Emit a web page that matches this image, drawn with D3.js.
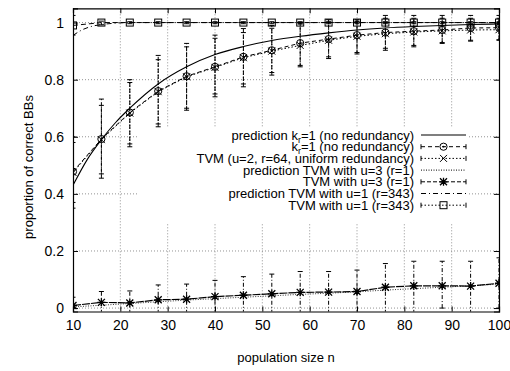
<!DOCTYPE html>
<html>
<head>
<meta charset="utf-8">
<script src="https://cdn.jsdelivr.net/npm/d3@7"></script>
<style>
  body { margin: 0; background: #fff; }
  svg text { font-family: "Liberation Sans", Arial, sans-serif; fill: #000; }
</style>
</head>
<body>
<svg id="mainsvg" width="510" height="371"></svg>
<script>
// sample points (population size)
const popSizes = [10, 16, 22, 28, 34, 40, 46, 52, 58, 64, 70, 76, 82, 88, 94, 100];

// prediction k_r=1 (smooth curve, read at the sample points)
const predKrX = [10, 13, 16, 19, 22, 28, 34, 40, 46, 52, 58, 64, 70, 76, 82, 88, 94, 100];
const predKrY = [0.43, 0.52, 0.59, 0.65, 0.70, 0.785, 0.845, 0.888, 0.916, 0.937, 0.952, 0.964, 0.974, 0.981, 0.986, 0.99, 0.993, 0.995];

// k_r=1 (no redundancy), mean and error bars
const krMean = [0.478, 0.592, 0.685, 0.76, 0.812, 0.845, 0.88, 0.903, 0.928, 0.942, 0.956, 0.965, 0.97, 0.974, 0.981, 0.982];
const krLow  = [0.35, 0.455, 0.565, 0.635, 0.693, 0.74, 0.775, 0.816, 0.845, 0.874, 0.89, 0.903, 0.915, 0.927, 0.938, 0.938];
const krHigh = [0.60, 0.732, 0.80, 0.885, 0.927, 0.956, 0.979, 0.99, 1.0, 1.01, 1.01, 1.025, 1.025, 1.025, 1.025, 1.025];

// TVM (u=2, r=64, uniform redundancy)
const tvm2Mean = [0.475, 0.59, 0.683, 0.758, 0.81, 0.843, 0.877, 0.9, 0.92, 0.938, 0.952, 0.961, 0.967, 0.971, 0.974, 0.975];
const tvm2Low  = [0.37, 0.47, 0.575, 0.645, 0.70, 0.75, 0.785, 0.825, 0.85, 0.88, 0.895, 0.91, 0.92, 0.93, 0.935, 0.94];
const tvm2High = [0.58, 0.71, 0.79, 0.87, 0.915, 0.945, 0.965, 0.98, 0.995, 1.0, 1.005, 1.015, 1.015, 1.015, 1.015, 1.015];

// prediction TVM with u=3 (r=1)
const predU3Y = [0.004, 0.01, 0.016, 0.022, 0.028, 0.033, 0.038, 0.043, 0.048, 0.052, 0.057, 0.063, 0.068, 0.073, 0.078, 0.084];

// TVM with u=3 (r=1)
const u3Mean = [0.009, 0.02, 0.018, 0.029, 0.031, 0.04, 0.045, 0.05, 0.055, 0.056, 0.058, 0.073, 0.078, 0.078, 0.077, 0.087];
const u3Low  = [-0.02, -0.02, -0.02, -0.02, -0.02, -0.02, -0.02, -0.02, -0.02, -0.02, -0.02, -0.02, -0.02, 0.0, -0.02, 0.0];
const u3High = [0.038, 0.058, 0.06, 0.081, 0.084, 0.097, 0.11, 0.119, 0.128, 0.128, 0.133, 0.156, 0.164, 0.164, 0.164, 0.176];

// prediction TVM with u=1 (r=343)
const predU1X = [10, 12, 14, 16, 19, 22, 28, 40, 60, 80, 100];
const predU1Y = [0.955, 0.975, 0.987, 0.993, 0.998, 1.0, 1.0, 1.0, 1.0, 1.0, 1.0];

// TVM with u=1 (r=343)
const u1Mean = [0.99, 1.0, 1.0, 1.0, 1.0, 1.0, 1.0, 1.0, 1.0, 1.0, 1.0, 1.0, 1.0, 1.0, 1.0, 1.0];
const u1Low  = [0.956, 0.992, 0.996, 0.996, 0.996, 0.996, 0.996, 0.996, 0.996, 0.996, 0.996, 0.996, 0.996, 0.996, 0.996, 0.996];
const u1High = [1.025, 1.005, 1.003, 1.003, 1.003, 1.003, 1.003, 1.003, 1.003, 1.003, 1.003, 1.003, 1.003, 1.003, 1.003, 1.003];

const xTicks = [10, 20, 30, 40, 50, 60, 70, 80, 90, 100];
const yTicks = [0, 0.2, 0.4, 0.6, 0.8, 1];

const svg = d3.select("#mainsvg");
const mLeft = 73, mRight = 499, mTop = 8.3, mBottom = 311.5;

const x = d3.scaleLinear().domain([10, 100]).range([mLeft, mRight]);
const y = d3.scaleLinear().domain([-0.012, 1.05]).range([mBottom, mTop]);

svg.append("defs").append("clipPath").attr("id", "plotclip")
  .append("rect").attr("x", mLeft).attr("y", mTop).attr("width", mRight - mLeft).attr("height", mBottom - mTop);

// grid
const grid = svg.append("g").attr("stroke", "#777").attr("stroke-width", 0.8).attr("stroke-dasharray", "1,2");
xTicks.slice(1, -1).forEach(t => {
  grid.append("line").attr("x1", x(t)).attr("x2", x(t)).attr("y1", mTop).attr("y2", mBottom);
});
yTicks.forEach(t => {
  grid.append("line").attr("x1", mLeft).attr("x2", mRight).attr("y1", y(t)).attr("y2", y(t));
});

// legend background blanks the grid
svg.append("rect").attr("x", 138).attr("y", 128).attr("width", 330).attr("height", 95).attr("fill", "#fff");

// axes (gnuplot-like inward ticks, mirrored)
const axisG = svg.append("g");
const xAxisB = axisG.append("g").attr("transform", `translate(0,${mBottom})`)
  .call(d3.axisBottom(x).tickValues(xTicks).tickSize(-5).tickPadding(9).tickFormat(d3.format("d")));
const xAxisT = axisG.append("g").attr("transform", `translate(0,${mTop})`)
  .call(d3.axisTop(x).tickValues(xTicks).tickSize(-5).tickFormat(""));
const yAxisL = axisG.append("g").attr("transform", `translate(${mLeft},0)`)
  .call(d3.axisLeft(y).tickValues(yTicks).tickSize(-5).tickPadding(9).tickFormat(d => d === 0 || d === 1 ? d3.format("d")(d) : d3.format(".1f")(d)));
const yAxisR = axisG.append("g").attr("transform", `translate(${mRight},0)`)
  .call(d3.axisRight(y).tickValues(yTicks).tickSize(-5).tickFormat(""));
[xAxisB, xAxisT, yAxisL, yAxisR].forEach(a => a.attr("font-size", 14));
axisG.selectAll(".domain").attr("stroke", "#000").attr("stroke-width", 1.2);
axisG.selectAll(".tick line").attr("stroke", "#000");

// axis labels
svg.append("text").attr("x", 286).attr("y", 362).attr("text-anchor", "middle").attr("font-size", 13)
  .text("population size n");
svg.append("text").attr("transform", "translate(33,167) rotate(-90)").attr("text-anchor", "middle").attr("font-size", 13)
  .text("proportion of correct BBs");

const plot = svg.append("g").attr("clip-path", "url(#plotclip)");
const lineGen = d3.line().x(d => x(d[0])).y(d => y(d[1]));
const smoothGen = d3.line().x(d => x(d[0])).y(d => y(d[1])).curve(d3.curveMonotoneX);

function errorBars(g, mean, low, high, dash) {
  popSizes.forEach((p, i) => {
    g.append("line").attr("x1", x(p)).attr("x2", x(p)).attr("y1", y(low[i])).attr("y2", y(high[i]))
      .attr("stroke", "#000").attr("stroke-width", 1).attr("stroke-dasharray", dash);
    [low[i], high[i]].forEach(v => {
      g.append("line").attr("x1", x(p) - 2.5).attr("x2", x(p) + 2.5).attr("y1", y(v)).attr("y2", y(v))
        .attr("stroke", "#000").attr("stroke-width", 1);
    });
  });
}

function marker(g, kind, cx, cy) {
  if (kind === "circle") {
    g.append("circle").attr("cx", cx).attr("cy", cy).attr("r", 3.6).attr("fill", "none").attr("stroke", "#000").attr("stroke-width", 1);
    g.append("circle").attr("cx", cx).attr("cy", cy).attr("r", 0.9).attr("fill", "#000");
  } else if (kind === "cross") {
    g.append("path").attr("d", `M${cx - 3.5},${cy - 3.5}L${cx + 3.5},${cy + 3.5}M${cx - 3.5},${cy + 3.5}L${cx + 3.5},${cy - 3.5}`)
      .attr("stroke", "#000").attr("stroke-width", 1);
  } else if (kind === "star") {
    g.append("path").attr("d", `M${cx - 3.5},${cy - 3.5}L${cx + 3.5},${cy + 3.5}M${cx - 3.5},${cy + 3.5}L${cx + 3.5},${cy - 3.5}M${cx - 4},${cy}L${cx + 4},${cy}M${cx},${cy - 4}L${cx},${cy + 4}`)
      .attr("stroke", "#000").attr("stroke-width", 1.3);
  } else if (kind === "square") {
    g.append("rect").attr("x", cx - 3.5).attr("y", cy - 3.5).attr("width", 7).attr("height", 7)
      .attr("fill", "none").attr("stroke", "#000").attr("stroke-width", 1);
  }
}

// prediction TVM u=3 (dotted)
plot.append("path").datum(popSizes.map((p, i) => [p, predU3Y[i]])).attr("d", lineGen)
  .attr("fill", "none").attr("stroke", "#333").attr("stroke-width", 1).attr("stroke-dasharray", "1,1.5");

// TVM u=3
errorBars(plot, u3Mean, u3Low, u3High, "4,2,1,2");
plot.append("path").datum(popSizes.map((p, i) => [p, u3Mean[i]])).attr("d", lineGen)
  .attr("fill", "none").attr("stroke", "#000").attr("stroke-width", 1.2).attr("stroke-dasharray", "8,1");
popSizes.forEach((p, i) => marker(plot, "star", x(p), y(u3Mean[i])));

// k_r=1 and TVM u=2
errorBars(plot, krMean, krLow, krHigh, "4,2");
errorBars(plot, tvm2Mean, tvm2Low, tvm2High, "1.5,1.5");
plot.append("path").datum(popSizes.map((p, i) => [p, krMean[i]])).attr("d", lineGen)
  .attr("fill", "none").attr("stroke", "#000").attr("stroke-width", 1).attr("stroke-dasharray", "4,3");
plot.append("path").datum(popSizes.map((p, i) => [p, tvm2Mean[i]])).attr("d", lineGen)
  .attr("fill", "none").attr("stroke", "#000").attr("stroke-width", 1).attr("stroke-dasharray", "1.5,2");
popSizes.forEach((p, i) => marker(plot, "circle", x(p), y(krMean[i])));
popSizes.forEach((p, i) => marker(plot, "cross", x(p), y(tvm2Mean[i])));

// prediction k_r=1 (solid)
plot.append("path").datum(predKrX.map((p, i) => [p, predKrY[i]])).attr("d", smoothGen)
  .attr("fill", "none").attr("stroke", "#000").attr("stroke-width", 1.1);

// prediction TVM u=1 (dash-dot) and TVM u=1 squares
plot.append("path").datum(predU1X.map((p, i) => [p, predU1Y[i]])).attr("d", smoothGen)
  .attr("fill", "none").attr("stroke", "#000").attr("stroke-width", 1).attr("stroke-dasharray", "5,3,1,3");
errorBars(plot, u1Mean, u1Low, u1High, "2,2");
plot.append("path").datum(popSizes.map((p, i) => [p, u1Mean[i]])).attr("d", lineGen)
  .attr("fill", "none").attr("stroke", "#000").attr("stroke-width", 1).attr("stroke-dasharray", "5,3");
popSizes.forEach((p, i) => marker(plot, "square", x(p), y(u1Mean[i])));

// legend
const legendRows = [
  { label: ["prediction k", "r", "=1 (no redundancy)"], dash: null, mk: null, bars: false, w: 1.1 },
  { label: ["k", "r", "=1 (no redundancy)"], dash: "4,3", mk: "circle", bars: true, w: 1 },
  { label: ["TVM (u=2, r=64, uniform redundancy)"], dash: "1.5,2", mk: "cross", bars: true, w: 1 },
  { label: ["prediction TVM with u=3 (r=1)"], dash: "1,1.5", mk: null, bars: false, w: 1 },
  { label: ["TVM with u=3 (r=1)"], dash: "4,2", mk: "star", bars: true, w: 1 },
  { label: ["prediction TVM with u=1 (r=343)"], dash: "5,3,1,3", mk: null, bars: false, w: 1 },
  { label: ["TVM with u=1 (r=343)"], dash: "1.5,2", mk: "square", bars: true, w: 1 }
];
const leg = svg.append("g").attr("font-size", 13);
legendRows.forEach((r, i) => {
  const ly = 135 + i * 11.7;
  const t = leg.append("text").attr("x", 414).attr("y", ly + 4.5).attr("text-anchor", "end");
  if (r.label.length === 3) {
    t.append("tspan").text(r.label[0]);
    t.append("tspan").attr("dy", 3).attr("font-size", 9).text(r.label[1]);
    t.append("tspan").attr("dy", -3).text(r.label[2]);
  } else {
    t.text(r.label[0]);
  }
  const l = leg.append("line").attr("x1", 421).attr("x2", 466).attr("y1", ly).attr("y2", ly)
    .attr("stroke", "#000").attr("stroke-width", r.w);
  if (r.dash) l.attr("stroke-dasharray", r.dash);
  if (r.bars) {
    [421, 466].forEach(bx => leg.append("line").attr("x1", bx).attr("x2", bx).attr("y1", ly - 2.5).attr("y2", ly + 2.5)
      .attr("stroke", "#000").attr("stroke-width", 1));
  }
  if (r.mk) marker(leg, r.mk, 443.5, ly);
});
</script>
</body>
</html>
